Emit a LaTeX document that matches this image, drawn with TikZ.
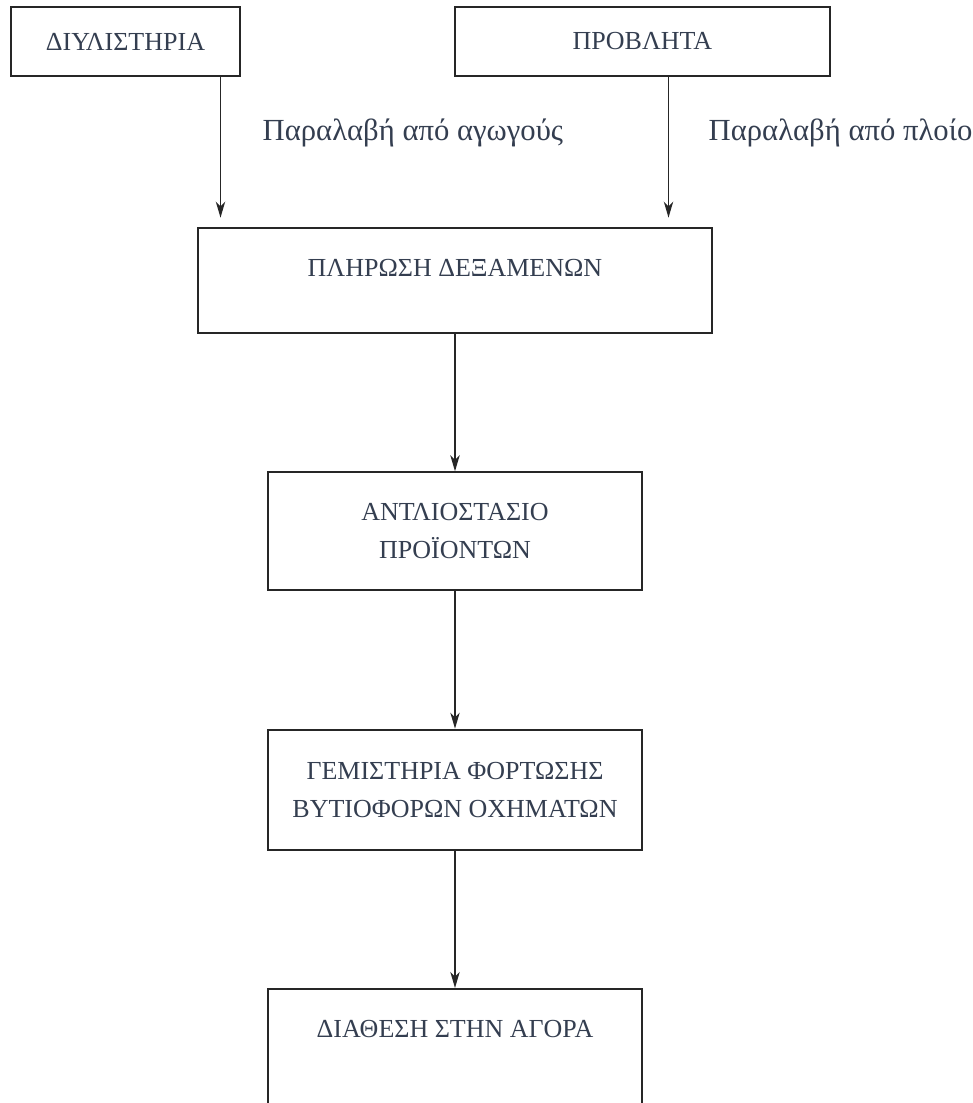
\documentclass[tikz,border=0pt]{standalone}
\usepackage{fontspec}
\setmainfont{Liberation Serif}
\usepackage{xcolor}
\usetikzlibrary{positioning}
\usetikzlibrary{arrows.meta}
\definecolor{slate}{RGB}{52,62,80}

\begin{document}
\begin{tikzpicture}[x=0.75pt,y=-0.75pt]
    \tikzstyle{every node}=[font=\fontsize{19.5}{28.5}\selectfont,text=slate,node distance=103pt]
    \tikzstyle{box}=[draw=black!85,line width=1.5pt,align=center,minimum width=280pt,minimum height=88.5pt]
    \tikzstyle{flow}=[draw=black!85,line width=1.4pt,-{Stealth[length=12pt,width=7pt,inset=3.5pt]}]
    \tikzstyle{lbl}=[anchor=west,font=\fontsize{23}{28}\selectfont]

    \useasboundingbox (0,0) rectangle (972,1103);

    \node[box,minimum width=171.75pt,minimum height=51.75pt] (diyl) at (125.5,41.5) {ΔΙΥΛΙΣΤΗΡΙΑ} ;
    \node[box,minimum width=281.25pt,minimum height=51.75pt] (prov) at (642.5,41.5) {ΠΡΟΒΛΗΤΑ} ;

    \node[box,minimum width=385.5pt,minimum height=78.75pt] (plir) at (455,280.5) {ΠΛΗΡΩΣΗ ΔΕΞΑΜΕΝΩΝ\\[-9pt] ~} ;
    \node[box,below=of plir] (antl)  {ΑΝΤΛΙΟΣΤΑΣΙΟ\\ ΠΡΟΪΟΝΤΩΝ} ;
    \node[box,below=of antl,minimum height=90pt] (gem)  {ΓΕΜΙΣΤΗΡΙΑ ΦΟΡΤΩΣΗΣ\\ ΒΥΤΙΟΦΟΡΩΝ ΟΧΗΜΑΤΩΝ} ;
    \node[box,below=of gem] (diath)  {ΔΙΑΘΕΣΗ ΣΤΗΝ ΑΓΟΡΑ\\ ~} ;

    \node[lbl] (agog) at (258,133) {Παραλαβή από αγωγούς} ;
    \node[lbl] (ploio) at (704,133) {Παραλαβή από πλοίο} ;

    \draw[flow,shorten >=7pt] ([xshift=71.25pt]diyl.south) -- ([xshift=71.25pt]diyl.south |- plir.north) ;
    \draw[flow,shorten >=7pt] ([xshift=19.5pt]prov.south) -- ([xshift=19.5pt]prov.south |- plir.north) ;
    \foreach \a/\b in {plir/antl,antl/gem,gem/diath}
      \draw[flow] (\a.south) -- (\b.north) ;

\end{tikzpicture}
\end{document}
